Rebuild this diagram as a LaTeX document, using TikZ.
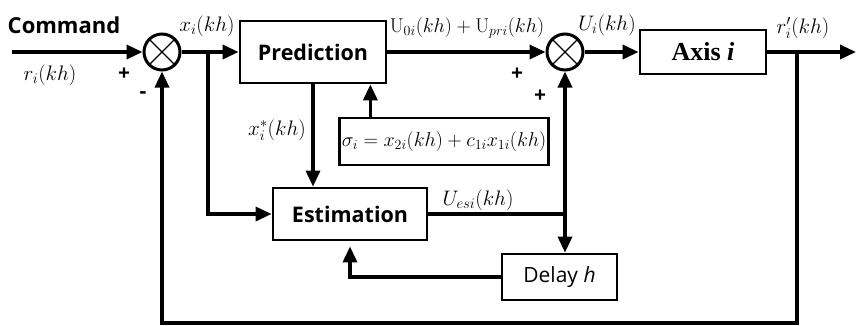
\RequirePackage{fix-cm}
\documentclass[tikz,border=0pt]{standalone}
\usepackage{fontspec}
\usepackage{amsmath}
\usepackage{tikz}
\usetikzlibrary{arrows.meta,positioning,calc}
\newfontfamily\osans{Open Sans}
\newfontfamily\tnr{Liberation Serif}

\begin{document}
\begin{tikzpicture}[x=1pt, y=-1pt,
  blk/.style={draw, line width=2.8pt, inner sep=2pt, font=\fontsize{21.5}{24}\selectfont\osans\bfseries},
  sumnode/.style={draw, circle, line width=3pt, minimum size=36pt, inner sep=0pt},
  arr/.style={-{Triangle[length=16pt,width=14pt]}, line width=3.4pt},
  wire/.style={line width=3.4pt},
  lbl/.style={font=\fontsize{21}{24}\selectfont, inner sep=0pt},
  sgn/.style={font=\fontsize{21}{22}\selectfont\osans\bfseries, inner sep=0pt}
]
\useasboundingbox (0,0) rectangle (856,325);
% blocks
\node[sumnode] (s1) at (162,52) {};
\node[blk, minimum width=146pt, minimum height=62pt] (pred) at (313,52) {Prediction};
\node[blk, minimum width=208pt, minimum height=47pt, font=\fontsize{20}{22}\selectfont] (sigma) at (444,141.5) {$\sigma_i = x_{2i}(kh) + c_{1i}x_{1i}(kh)$};
\node[sumnode] (s2) at (565,52) {};
\node[blk, minimum width=126pt, minimum height=44pt, font=\fontsize{26}{28}\selectfont\tnr\bfseries] (axis) at (703,52) {Axis \textit{i}};
\node[blk, minimum width=154pt, minimum height=52pt] (est) at (350,214) {Estimation};
\node[blk, minimum width=115pt, minimum height=46pt, font=\fontsize{21}{24}\selectfont\osans] (delay) at (559.5,277) {Delay \textit{h}};
\foreach \s in {s1,s2} {
  \draw[line width=1.2pt] (\s.north east) -- (\s.south west);
  \draw[line width=1.2pt] (\s.north west) -- (\s.south east);
}
% junctions
\coordinate (in) at (12,52);
\coordinate (out) at (856,52);
\coordinate (br1) at (208,52);
\coordinate (fb) at (797,52);
\coordinate (fbbot) at (797,323);
\coordinate (j2) at (565,214);
% connectors
\draw[arr] (in) -- (s1.west);
\draw[arr] (s1.east) -- (pred.west);
\draw[arr] (br1) |- (est.west);
\draw[arr] (pred.south) -- (pred.south |- est.north);
\draw[arr] ([xshift=32pt]sigma.north west) -- ([xshift=32pt]sigma.north west |- pred.south);
\draw[arr] (pred.east) -- (s2.west);
\draw[arr] (s2.east) -- (axis.west);
\draw[arr] (axis.east) -- (out);
\draw[wire] (est.east) -- (j2);
\draw[arr] (j2) -- (s2.south);
\draw[arr] (j2) -- (j2 |- delay.north);
\draw[arr, shorten >=5pt] (delay.west) -| (est.south);
\draw[arr] (fb) -- (fbbot) -| (s1.south);
% labels
\node[font=\fontsize{22}{26}\selectfont\osans\bfseries, inner sep=0pt] (cmd) at (64,25) {Command};
\node[lbl] (lr) at (50,75) {$r_i(kh)$};
\node[sgn] (p1) at (124,74) {+};
\node[sgn] (m1) at (143,95) {-};
\node[lbl] (lx) at (207,26) {$x_i(kh)$};
\node[lbl, font=\fontsize{20}{24}\selectfont] (lu) at (467,28) {$\mathrm{U}_{0i}(kh)+\mathrm{U}_{pri}(kh)$};
\node[sgn] (p2) at (517,74) {+};
\node[sgn] (p3) at (540,96) {+};
\node[lbl] (lui) at (607,25) {$U_i(kh)$};
\node[lbl] (lro) at (803,28) {$r_i'(kh)$};
\node[lbl] (lxs) at (277,130) {$x_i^*(kh)$};
\node[lbl] (lue) at (478,200) {$U_{esi}(kh)$};
\end{tikzpicture}
\end{document}
